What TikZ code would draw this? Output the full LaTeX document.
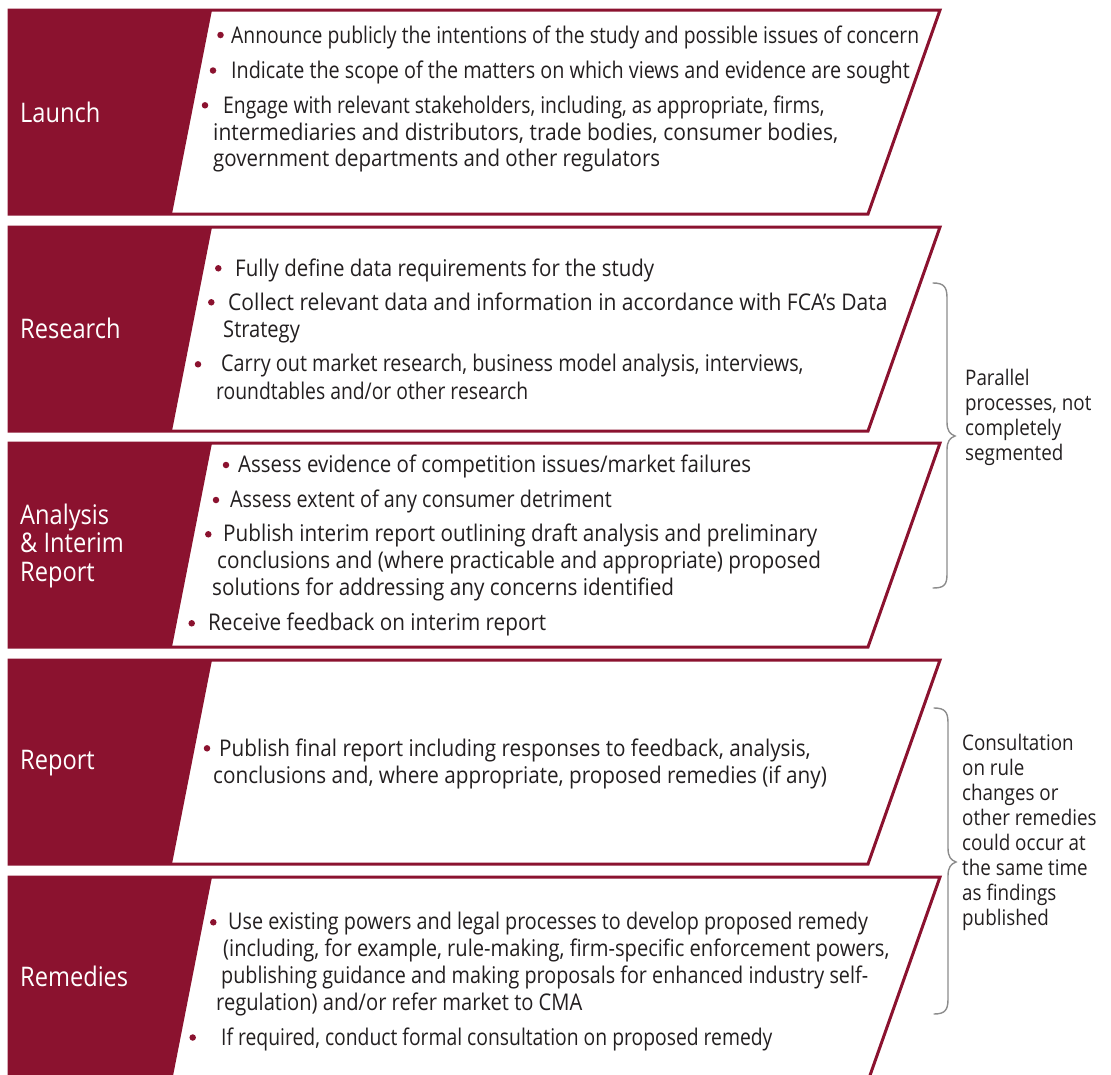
\documentclass[tikz,border=0pt]{standalone}
\usepackage{fontspec}
\setmainfont{Open Sans}[FakeStretch=0.875]
% slightly narrower and wider cuts, used to fit individual lines
\newfontfamily\stretchA{Open Sans}[FakeStretch=0.84]
\newfontfamily\stretchB{Open Sans}[FakeStretch=0.86]
\newfontfamily\stretchC{Open Sans}[FakeStretch=0.89]
\newfontfamily\stretchD{Open Sans}[FakeStretch=0.90]
\newfontfamily\stretchE{Open Sans}[FakeStretch=0.915]
\definecolor{fcared}{RGB}{139,18,47}
\definecolor{ink}{RGB}{35,31,32}
\definecolor{bracegray}{RGB}{140,140,140}

\begin{document}
\begin{tikzpicture}[x=1pt,y=-1pt,
  bodytext/.style={anchor=base west, inner sep=0pt, text=ink, font=\fontsize{23}{28}\selectfont},
  dot/.style={circle, fill=fcared, inner sep=0pt, minimum size=6.5pt},
  stagelabel/.style={anchor=base west, inner sep=0pt, text=white, font=\fontsize{27}{29}\selectfont},
  sidenote/.style={anchor=base west, inner sep=0pt, text=ink, font=\fontsize{21.5}{25}\selectfont},
  frame/.style={draw=fcared, line width=3pt, fill=white, line join=miter},
  tab/.style={fill=fcared},
  bracket/.style={draw=bracegray, line width=1.4pt, line cap=round}]

\useasboundingbox (0,0) rectangle (1111,1074);
\clip (0,0) rectangle (1111,1074);

% five stage bands: white slanted panel with a red tab on the left
\foreach \t in {10,227,443,660,877} {
  \path[frame] (9,\t) -- (940,\t) -- (868,\t+204) -- (9,\t+204) -- cycle;
  \path[tab] (9,\t) -- (212,\t) -- (172,\t+204) -- (9,\t+204) -- cycle;
}

% stage names
\node[stagelabel] (lLaunch) at (20,122.7) {Launch};
\node[stagelabel] (lResearch) at (20,338.7) {Research};
\node[stagelabel] (lAnalysisA) at (20,524) {Analysis};
\node[stagelabel] (lAnalysisB) at (20,552) {\& Interim};
\node[stagelabel] (lAnalysisC) at (20,581.7) {Report};
\node[stagelabel] (lReport) at (20,769) {Report};
\node[stagelabel] (lRemedies) at (20,986.7) {Remedies};

% Launch
\node[dot] (b1a) at (220.5,35) {};
\node[bodytext] (t1a) at (231,43.3) {\stretchA Announce publicly the intentions of the study and possible issues of concern};
\node[dot] (b1b) at (213,70.5) {};
\node[bodytext] (t1b) at (231,78.7) {\stretchB Indicate the scope of the matters on which views and evidence are sought};
\node[dot] (b1c) at (205,105.3) {};
\node[bodytext] (t1c) at (223,113.3) {\stretchA Engage with relevant stakeholders, including, as appropriate, firms,};
\node[bodytext] (t1d) at (213,140) {\stretchE intermediaries and distributors, trade bodies, consumer bodies,};
\node[bodytext] (t1e) at (213,166.7) {\stretchC government departments and other regulators};

% Research
\node[dot] (b2a) at (218.3,268.3) {};
\node[bodytext] (t2a) at (235,276) {\stretchC Fully define data requirements for the study};
\node[dot] (b2b) at (211.3,302.3) {};
\node[bodytext] (t2b) at (228,310) {\stretchE Collect relevant data and information in accordance with FCA’s Data};
\node[bodytext] (t2c) at (223,337.7) {Strategy};
\node[dot] (b2d) at (198,364.3) {};
\node[bodytext] (t2d) at (221,371.7) {\stretchB Carry out market research, business model analysis, interviews,};
\node[bodytext] (t2e) at (216,399) {\stretchA roundtables and/or other research};

% Analysis & Interim Report
\node[dot] (b3a) at (226,465) {};
\node[bodytext] (t3a) at (238,472.7) {\stretchC Assess evidence of competition issues/market failures};
\node[dot] (b3b) at (216,500) {};
\node[bodytext] (t3b) at (230,507) {\stretchB Assess extent of any consumer detriment};
\node[dot] (b3c) at (208.3,534.3) {};
\node[bodytext] (t3c) at (223,541.7) {\stretchD Publish interim report outlining draft analysis and preliminary};
\node[bodytext] (t3d) at (217,568) {\stretchD conclusions and (where practicable and appropriate) proposed};
\node[bodytext] (t3e) at (212,595.7) {\stretchD solutions for addressing any concerns identified};
\node[dot] (b3f) at (191.7,623.3) {};
\node[bodytext] (t3f) at (208,630.7) {\stretchD Receive feedback on interim report};

% Report
\node[dot] (b4a) at (207,748.3) {};
\node[bodytext] (t4a) at (219,756) {\stretchD Publish final report including responses to feedback, analysis,};
\node[bodytext] (t4b) at (213,783.3) {\stretchD conclusions and, where appropriate, proposed remedies (if any)};

% Remedies
\node[dot] (b5a) at (213.3,922.3) {};
\node[bodytext] (t5a) at (228,929) {\stretchB Use existing powers and legal processes to develop proposed remedy};
\node[bodytext] (t5b) at (223,956) {(including, for example, rule-making, firm-specific enforcement powers,};
\node[bodytext] (t5c) at (221,983) {\stretchB publishing guidance and making proposals for enhanced industry self-};
\node[bodytext] (t5d) at (216,1010) {regulation) and/or refer market to CMA};
\node[dot] (b5e) at (192.7,1037.5) {};
\node[bodytext] (t5e) at (221,1045.7) {\stretchA If required, conduct formal consultation on proposed remedy};

% braces grouping stages, with their notes
\path[bracket] (933,283) .. controls (944,283) and (947,287) .. (947,298)
  -- (947,422) .. controls (947,431) and (950,434) .. (955,436)
  .. controls (950,438) and (947,441) .. (947,450)
  -- (947,574) .. controls (947,585) and (944,588) .. (933,588);
\node[sidenote] (n1a) at (965,385) {Parallel};
\node[sidenote] (n1b) at (965,410) {processes, not};
\node[sidenote] (n1c) at (965,435) {completely};
\node[sidenote] (n1d) at (965,460) {segmented};

\path[bracket] (934,708) .. controls (945,708) and (948,712) .. (948,723)
  -- (948,848) .. controls (948,857) and (951,860) .. (956,862)
  .. controls (951,864) and (948,867) .. (948,876)
  -- (948,999) .. controls (948,1010) and (945,1014) .. (934,1014);
\node[sidenote] (n2a) at (962,750) {Consultation};
\node[sidenote] (n2b) at (962,775) {on rule};
\node[sidenote] (n2c) at (962,800) {changes or};
\node[sidenote] (n2d) at (962,825) {other remedies};
\node[sidenote] (n2e) at (962,850) {could occur at};
\node[sidenote] (n2f) at (962,875) {the same time};
\node[sidenote] (n2g) at (962,900) {as findings};
\node[sidenote] (n2h) at (962,925) {published};
\end{tikzpicture}
\end{document}
